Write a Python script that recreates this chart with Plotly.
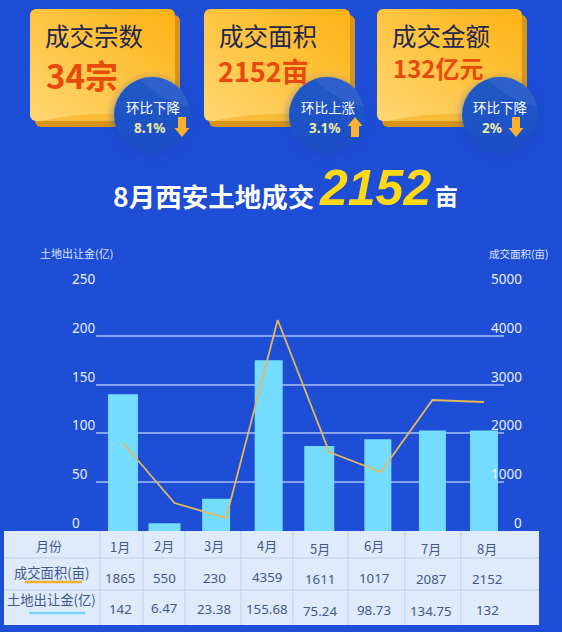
import base64
import plotly.graph_objects as go

W, H = 562, 632

MONTHS = ["1月", "2月", "3月", "4月", "5月", "6月", "7月", "8月"]
# heights as drawn in the chart (they differ a little from the table below)
BAR_VALUES = [140, 8, 33, 175, 87, 94, 103, 103]
LINE_VALUES = [1803, 574, 266, 4324, 1619, 1209, 2684, 2643]

TABLE_AREA = ["1865", "550", "230", "4359", "1611", "1017", "2087", "2152"]
TABLE_MONEY = ["142", "6.47", "23.38", "155.68", "75.24", "98.73", "134.75", "132"]

LEFT_TICKS = [0, 50, 100, 150, 200, 250]
RIGHT_TICKS = [0, 1000, 2000, 3000, 4000, 5000]

# card text: title, value, badge label, badge value
CARDS = [
    ("成交宗数", "34宗", "环比下降", "8.1%"),
    ("成交面积", "2152亩", "环比上涨", "3.1%"),
    ("成交金额", "132亿元", "环比下降", "2%"),
]

CJK = "Noto Sans CJK SC"
BG = "#1e4dd6"
TABLE_TEXT = "#42588a"

# bars in the picture are not evenly spaced, px offsets from the category centre and px widths
BAR_SHIFT = [0, -10, -10, -9, -10, -3, 0, 0]
BAR_WIDTH = [30, 32, 28, 28, 30, 27, 27, 28]
PX_PER_CAT = 51.57

# table layout in page pixels, the rows wobble a bit in the picture
COL_EDGES = [4, 100, 143, 185, 241, 293, 348, 405, 461, 539]
ROW_EDGES = [531, 558, 590, 625]
COL_TEXT_X = [120, 164, 214, 267, 320, 374, 431, 487]
HEAD_Y = [546, 545, 545, 545, 548, 545, 548, 548]
AREA_Y = [578, 578, 578, 577, 579, 578, 579, 579]
MONEY_Y = [609, 608, 609, 609, 611, 610, 611, 610]


def px(x):
    return x / W


def py(y):
    return 1 - y / H


def card_svg(x0, x1, cx, arrow_x, up):
    """One yellow card plus its round badge and arrow, in page pixels"""
    y0, y1 = 9, 121
    cy, r = 115, 38
    if up:
        arrow = f"M{arrow_x} 117 l7.5 9 h-3.5 v11 h-8 v-11 h-3.5 z"
    else:
        arrow = f"M{arrow_x} 137 l7.5 -9 h-3.5 v-11 h-8 v11 h-3.5 z"
    return f"""
    <rect x="{x0 + 5}" y="{y0 + 6}" width="{x1 - x0}" height="{y1 - y0}" rx="6" fill="#d8951b"/>
    <rect x="{x0}" y="{y0}" width="{x1 - x0}" height="{y1 - y0}" rx="6" fill="url(#card)"/>
    <path d="M{x0 + 10} {y1} Q{x0 + 50} {y1 - 9} {x1 - 45} {y1 - 7} L{x1 - 30} {y1} Z" fill="#f7b52a" opacity="0.7"/>
    <circle cx="{cx}" cy="{cy + 3}" r="{r + 2}" fill="#1a46b8" opacity="0.4" filter="url(#blur)"/>
    <circle cx="{cx}" cy="{cy}" r="{r}" fill="url(#badge)"/>
    <path d="M{cx - 13} {cy - r + 2} A{r} {r} 0 0 1 {cx + r - 1} {cy - 8} Q{cx + 10} {cy - 14} {cx - 13} {cy - r + 2} Z" fill="#3a6ad2" opacity="0.55"/>
    <path d="{arrow}" fill="#fbb130"/>
    """


def background_image():
    parts = [
        card_svg(30, 175, 152, 182, False),
        card_svg(204, 350, 327, 355, True),
        card_svg(377, 522, 500, 516, False),
    ]
    svg = f"""<svg xmlns="http://www.w3.org/2000/svg" width="{W}" height="{H}" viewBox="0 0 {W} {H}">
    <defs>
    <linearGradient id="card" x1="0" y1="1" x2="1" y2="0">
    <stop offset="0" stop-color="#ffd773"/><stop offset="1" stop-color="#fdb212"/>
    </linearGradient>
    <linearGradient id="badge" x1="0" y1="0" x2="0" y2="1">
    <stop offset="0" stop-color="#2159c2"/><stop offset="1" stop-color="#1c4ec8"/>
    </linearGradient>
    <filter id="blur" x="-30%" y="-30%" width="160%" height="160%"><feGaussianBlur stdDeviation="4"/></filter>
    </defs>
    {''.join(parts)}
    </svg>"""
    return "data:image/svg+xml;base64," + base64.b64encode(svg.encode("utf-8")).decode("ascii")


def label(x, y, text, size, color, anchor="center", bold=False, font=CJK, italic=False):
    return dict(
        xref="paper", yref="paper", x=px(x), y=py(y), text=f"<b>{text}</b>" if bold else text,
        showarrow=False, xanchor=anchor, yanchor="middle",
        font=dict(family=font, size=size, color=color, style="italic" if italic else "normal"),
    )


def page_line(x0, y0, x1, y1, color, width):
    return dict(type="line", xref="paper", yref="paper", x0=px(x0), x1=px(x1), y0=py(y0), y1=py(y1),
                line=dict(color=color, width=width), layer="above")


fig = go.Figure()

fig.add_trace(go.Bar(
    x=MONTHS, y=BAR_VALUES, marker_color="#74dcff", marker_line_width=0, yaxis="y",
    width=[w / PX_PER_CAT for w in BAR_WIDTH],
    offset=[(s - w / 2) / PX_PER_CAT for s, w in zip(BAR_SHIFT, BAR_WIDTH)],
))
fig.add_trace(go.Scatter(
    x=MONTHS, y=LINE_VALUES, mode="lines", yaxis="y2",
    line=dict(color="#e3b95a", width=1.8),
))

annotations = []
for (title, value, badge, pct), x_title, x_value, v_size, v_y, cx, pct_x in zip(
    CARDS, [43, 217, 390], [44, 216, 391], [33, 27, 24], [75, 70, 67], [153, 328, 500], [150, 324, 492]
):
    annotations.append(label(x_title, 36, title, 24.5, "#23264f", "left"))
    annotations.append(label(x_value, v_y, value, v_size, "#e8490c", "left", bold=True))
    annotations.append(label(cx, 107, badge, 13.5, "#ffffff"))
    annotations.append(label(pct_x, 128, pct, 13.5, "#eeeaa4", bold=True, font="Noto Sans"))

# headline
annotations.append(label(111, 195, "8月西安土地成交", 26.5, "#ffffff", "left", bold=True))
annotations.append(label(317, 188, "2152", 50, "#ffd916", "left", bold=True, font="Liberation Sans", italic=True))
annotations.append(label(433, 195, "亩", 23, "#ffffff", "left", bold=True))

# axis titles
annotations.append(label(38, 253, "土地出让金(亿)", 11, "#dfe6fa", "left"))
annotations.append(label(487, 253, "成交面积(亩)", 10.5, "#dfe6fa", "left"))

# axis numbers sit above their gridlines in the picture
for tick in LEFT_TICKS:
    annotations.append(dict(
        xref="paper", yref="y", x=px(70), y=tick, yshift=8, text=str(tick), showarrow=False,
        font=dict(family="Noto Sans", size=13.5, color="#e8eefc"),
    ))
for tick in RIGHT_TICKS:
    annotations.append(dict(
        xref="paper", yref="y2", x=px(524), y=tick, yshift=8, text=str(tick), showarrow=False,
        font=dict(family="Noto Sans", size=13.5, color="#e8eefc"),
    ))

# table under the chart, drawn from the lists at the top
shapes = [dict(
    type="rect", xref="paper", yref="paper", x0=px(COL_EDGES[0]), x1=px(COL_EDGES[-1]),
    y0=py(ROW_EDGES[0]), y1=py(ROW_EDGES[-1]), fillcolor="#dfeafb", line_width=0, layer="above",
)]
for edge in COL_EDGES[1:-1]:
    shapes.append(page_line(edge, ROW_EDGES[0], edge, ROW_EDGES[-1], "#bdd0ee", 1))
for edge in ROW_EDGES[1:-1]:
    shapes.append(page_line(COL_EDGES[0], edge, COL_EDGES[-1], edge, "#bdd0ee", 1))
# coloured keys under the row labels
shapes.append(page_line(25, 582, 82, 582, "#f0b030", 2.5))
shapes.append(page_line(29, 613, 85, 613, "#74d8f5", 2.5))

annotations.append(label(49, 545, "月份", 13, TABLE_TEXT))
annotations.append(label(52, 572, "成交面积(亩)", 13.3, TABLE_TEXT))
annotations.append(label(52, 599, "土地出让金(亿)", 13.3, TABLE_TEXT))
for i, x in enumerate(COL_TEXT_X):
    annotations.append(label(x, HEAD_Y[i], MONTHS[i], 13, TABLE_TEXT))
    annotations.append(label(x, AREA_Y[i], TABLE_AREA[i], 13.3, TABLE_TEXT, font="Noto Sans"))
    annotations.append(label(x, MONEY_Y[i], TABLE_MONEY[i], 13.3, TABLE_TEXT, font="Noto Sans"))

fig.update_layout(
    width=W, height=H, margin=dict(l=0, r=0, t=0, b=0),
    paper_bgcolor=BG, plot_bgcolor="rgba(0,0,0,0)", showlegend=False,
    xaxis=dict(
        domain=[px(96), px(504)], range=[-0.523, 7.388], type="category",
        categoryorder="array", categoryarray=MONTHS,
        showticklabels=False, showgrid=False, zeroline=False, showline=False, ticks="",
    ),
    yaxis=dict(
        domain=[py(531), py(287)], range=[0, 250], tickvals=LEFT_TICKS, showticklabels=False,
        gridcolor="#86a3f2", gridwidth=1.5, zeroline=False, showline=False, ticks="",
    ),
    yaxis2=dict(
        overlaying="y", side="right", range=[0, 5000], tickvals=RIGHT_TICKS,
        showticklabels=False, showgrid=False, zeroline=False, showline=False, ticks="",
    ),
    annotations=annotations,
    shapes=shapes,
    images=[dict(
        source=background_image(), xref="paper", yref="paper", x=0, y=1, sizex=1, sizey=1,
        xanchor="left", yanchor="top", sizing="stretch", layer="below",
    )],
)

fig.write_html("out.html", config={"displayModeBar": False},
               post_script="document.body.style.margin='0';")
